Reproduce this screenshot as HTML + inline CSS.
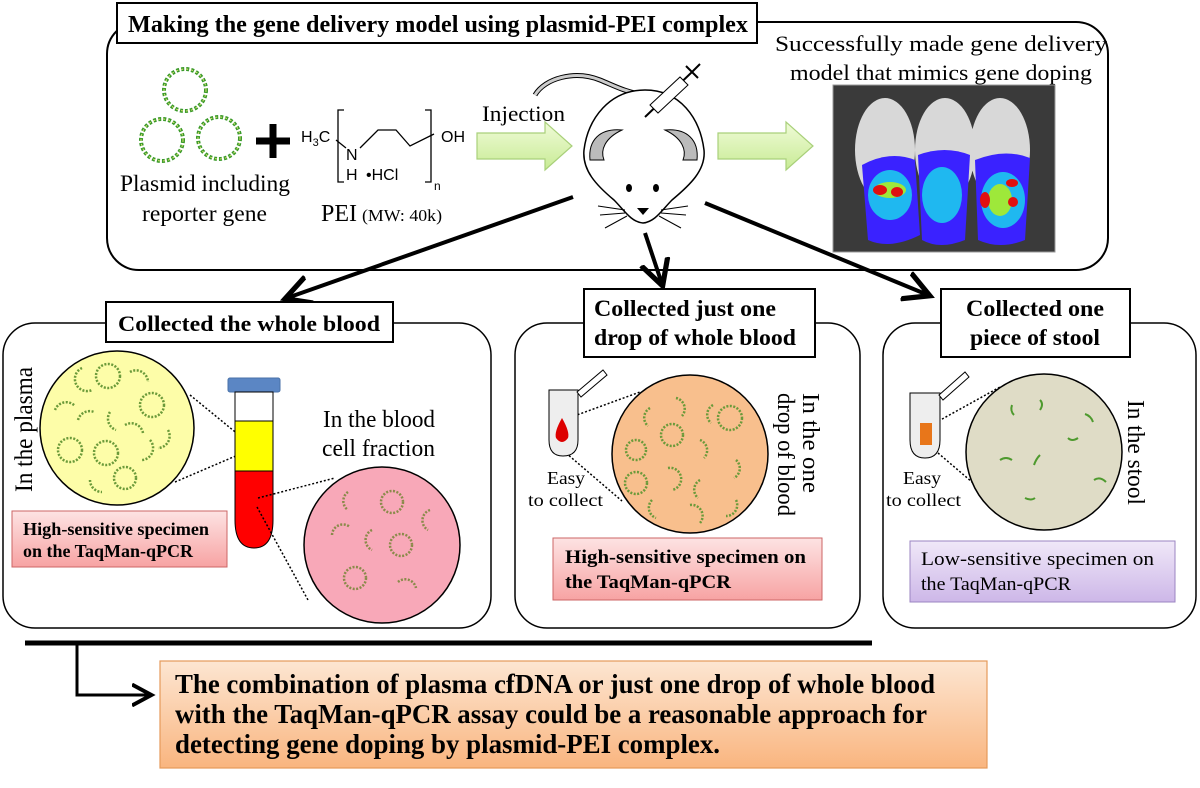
<!DOCTYPE html>
<html><head><meta charset="utf-8"><style>html,body{margin:0;padding:0;background:#fff}svg{display:block}</style></head><body>
<svg width="1200" height="788" viewBox="0 0 1200 788" xmlns="http://www.w3.org/2000/svg" font-family="Liberation Serif, serif">
<defs>
<linearGradient id="pk" x1="0" y1="0" x2="0" y2="1"><stop offset="0" stop-color="#fde3e3"/><stop offset="1" stop-color="#f7a3a3"/></linearGradient>
<linearGradient id="pu" x1="0" y1="0" x2="0" y2="1"><stop offset="0" stop-color="#f0e8f8"/><stop offset="1" stop-color="#cdb7e8"/></linearGradient>
<linearGradient id="or" x1="0" y1="0" x2="0" y2="1"><stop offset="0" stop-color="#fde6d2"/><stop offset="1" stop-color="#f9b57f"/></linearGradient>
<linearGradient id="gr" x1="0" y1="0" x2="0" y2="1"><stop offset="0" stop-color="#f0fbd8"/><stop offset="1" stop-color="#c8eb95"/></linearGradient>
<marker id="ah" markerWidth="8" markerHeight="8" refX="6" refY="4" orient="auto" markerUnits="strokeWidth"><path d="M0,0.5 L6.5,4 L0,7.5" fill="none" stroke="#000" stroke-width="1.3"/></marker>
</defs>

<!-- TOP PANEL -->
<rect x="107" y="22" width="1001" height="248" rx="32" fill="#fff" stroke="#000" stroke-width="2"/>
<rect x="117" y="3" width="640" height="40" fill="#fff" stroke="#000" stroke-width="2"/>
<text x="128" y="32" font-size="24" font-weight="bold" textLength="620" lengthAdjust="spacingAndGlyphs">Making the gene delivery model using plasmid-PEI complex</text>
<text x="775" y="51" font-size="22" textLength="332" lengthAdjust="spacingAndGlyphs">Successfully made gene delivery</text>
<text x="790" y="80" font-size="22" textLength="302" lengthAdjust="spacingAndGlyphs">model that mimics gene doping</text>

<!-- plasmids -->
<g fill="none" stroke="#3a9a2a" stroke-width="4" stroke-dasharray="3 2">
<circle cx="185" cy="90" r="21"/><circle cx="162" cy="140" r="21"/><circle cx="219" cy="138" r="21"/>
</g>
<g fill="none" stroke="#d8e070" stroke-width="1" stroke-dasharray="2 3">
<circle cx="185" cy="90" r="21"/><circle cx="162" cy="140" r="21"/><circle cx="219" cy="138" r="21"/>
</g>
<path d="M256,141 H290 M273,124 V158" stroke="#000" stroke-width="7"/>
<text x="120" y="191" font-size="23" textLength="170" lengthAdjust="spacingAndGlyphs">Plasmid including</text>
<text x="142" y="221" font-size="23" textLength="125" lengthAdjust="spacingAndGlyphs">reporter gene</text>

<!-- PEI -->
<g font-family="Liberation Sans, sans-serif" font-size="16">
<text x="301" y="142">H<tspan font-size="11" dy="4">3</tspan><tspan dy="-4">C</tspan></text>
<text x="346" y="160">N</text><text x="346" y="180">H</text>
<text x="366" y="180">•HCl</text>
<text x="441" y="142">OH</text>
<text x="434" y="190" font-size="12">n</text>
</g>
<path d="M336,140 L346,148 M360,148 L378,130 L396,130 L410,146 L434,134" fill="none" stroke="#000" stroke-width="1.3"/>
<path d="M344,110 H338 V182 H344 M425,110 H431 V182 H425" fill="none" stroke="#000" stroke-width="1.3"/>
<text x="321" y="221" font-size="24" textLength="36" lengthAdjust="spacingAndGlyphs">PEI</text>
<text x="362" y="221" font-size="17" textLength="80" lengthAdjust="spacingAndGlyphs">(MW: 40k)</text>

<!-- green arrows -->
<text x="482" y="121" font-size="22" textLength="83" lengthAdjust="spacingAndGlyphs">Injection</text>
<path d="M477,133 H545 V122 L572,146 L545,170 V159 H477 Z" fill="url(#gr)" stroke="#a9d07a" stroke-width="1.2"/>
<path d="M718,133 H786 V122 L813,146 L786,170 V159 H718 Z" fill="url(#gr)" stroke="#a9d07a" stroke-width="1.2"/>

<!-- mouse -->
<path d="M535,95 C545,78 575,70 600,80 C615,86 625,92 645,95" fill="none" stroke="#000" stroke-width="5"/>
<path d="M535,95 C545,78 575,70 600,80 C615,86 625,92 645,95" fill="none" stroke="#ccc" stroke-width="3"/>
<path d="M645,90 C680,90 700,118 704,150 C706,170 690,185 672,200 C662,210 655,222 643,223 C631,222 624,210 614,200 C596,185 582,170 584,150 C588,118 610,90 645,90 Z" fill="#fff" stroke="#000" stroke-width="1.5"/>
<path d="M590,160 C588,140 600,128 622,130 C605,138 600,150 604,160 Z" fill="#bbb" stroke="#000"/>
<path d="M697,160 C699,140 687,128 665,130 C682,138 687,150 683,160 Z" fill="#bbb" stroke="#000"/>
<ellipse cx="629" cy="188" rx="3" ry="4"/><ellipse cx="656" cy="188" rx="3" ry="4"/>
<path d="M637,208 H649 L643,215 Z"/>
<path d="M625,210 L598,206 M625,213 L600,215 M627,216 L605,228 M661,210 L688,206 M661,213 L686,215 M659,216 L681,228" stroke="#000" stroke-width="1"/>
<path d="M645,117 L692,72 M686,66 L698,78 M692,72 L700,64" stroke="#000" stroke-width="2"/>
<path d="M650,105 L680,77 L688,85 L658,113 Z" fill="#fff" stroke="#000"/>

<!-- photo -->
<rect x="833" y="85" width="222" height="167" fill="#3a3a3a" stroke="#999"/>
<g fill="#d8d8d8">
<ellipse cx="885" cy="150" rx="30" ry="52"/><ellipse cx="945" cy="150" rx="30" ry="52"/><ellipse cx="1000" cy="150" rx="30" ry="52"/>
</g>
<g fill="#3a22ff">
<path d="M862,165 Q890,150 915,160 L920,235 Q890,250 868,240 Z"/>
<path d="M918,155 Q945,145 970,155 L965,240 Q940,250 922,240 Z"/>
<path d="M975,160 Q1005,148 1030,158 L1025,240 Q1000,250 978,240 Z"/>
</g>
<g fill="#1fb8f0"><ellipse cx="890" cy="195" rx="22" ry="25"/><ellipse cx="942" cy="195" rx="20" ry="28"/><ellipse cx="1003" cy="200" rx="22" ry="28"/></g>
<g fill="#9ee83a"><ellipse cx="890" cy="190" rx="16" ry="8"/><ellipse cx="1000" cy="200" rx="12" ry="16"/></g>
<g fill="#e01010"><ellipse cx="880" cy="190" rx="7" ry="5"/><ellipse cx="897" cy="192" rx="6" ry="5"/><ellipse cx="985" cy="200" rx="5" ry="8"/><ellipse cx="1012" cy="183" rx="6" ry="4"/><ellipse cx="1013" cy="202" rx="5" ry="5"/></g>

<!-- black arrows -->
<g stroke="#000" stroke-width="4" fill="none" marker-end="url(#ah)">
<line x1="573" y1="197" x2="287" y2="298"/>
<line x1="645" y1="233" x2="662" y2="284"/>
<line x1="705" y1="203" x2="928" y2="295"/>
</g>

<!-- PANEL 1 -->
<rect x="3" y="323" width="488" height="305" rx="32" fill="#fff" stroke="#000" stroke-width="1.5"/>
<rect x="106" y="302" width="287" height="40" fill="#fff" stroke="#000" stroke-width="2"/>
<text x="118" y="331" font-size="22" font-weight="bold" textLength="262" lengthAdjust="spacingAndGlyphs">Collected the whole blood</text>
<text transform="translate(32,492) rotate(-90)" font-size="25" textLength="125" lengthAdjust="spacingAndGlyphs">In the plasma</text>
<ellipse cx="117" cy="428" rx="77" ry="77" fill="#fdfda8" stroke="#000" stroke-width="1.5"/>
<g fill="none" stroke="#6b9a3a" stroke-width="2.5" stroke-dasharray="2 1.5">
<circle cx="108" cy="376" r="12"/><circle cx="152" cy="405" r="12"/><circle cx="70" cy="450" r="12"/><circle cx="106" cy="453" r="12"/><circle cx="125" cy="478" r="11"/>
<path d="M82,368 a12,12 0 0,0 10,22"/><path d="M130,372 a12,12 0 0,1 18,10"/><path d="M55,410 a12,12 0 0,1 20,-4"/><path d="M78,420 a12,12 0 0,1 16,-8"/><path d="M110,412 a12,12 0 0,0 6,18"/><path d="M125,425 a12,12 0 0,1 18,8"/><path d="M150,440 a12,12 0 0,1 -8,20"/><path d="M90,480 a12,12 0 0,0 12,12"/><path d="M168,430 a12,12 0 0,1 -10,18"/>
</g>
<path d="M190,395 L245,440 M175,482 L245,452" stroke="#000" stroke-width="1.5" stroke-dasharray="2 2"/>
<rect x="228" y="378" width="52" height="14" rx="2" fill="#5b86c4" stroke="#4a72a8"/>
<path d="M235,392 H273 V520 Q273,548 254,548 Q235,548 235,520 Z" fill="#ff0000" stroke="#000"/>
<rect x="235" y="392" width="38" height="29" fill="#fff" stroke="#000"/>
<rect x="235" y="421" width="38" height="50" fill="#ffff00" stroke="#000"/>
<path d="M258,498 L335,478 M257,507 L308,600" stroke="#000" stroke-width="1.5" stroke-dasharray="2 2"/>
<text x="323" y="427" font-size="24" textLength="112" lengthAdjust="spacingAndGlyphs">In the blood</text>
<text x="322" y="456" font-size="24" textLength="113" lengthAdjust="spacingAndGlyphs">cell fraction</text>
<circle cx="382" cy="545" r="78" fill="#f8a8b8" stroke="#000" stroke-width="1.5"/>
<g fill="none" stroke="#8a8a4a" stroke-width="2.5" stroke-dasharray="2 1.5">
<circle cx="392" cy="502" r="11"/><circle cx="401" cy="545" r="11"/><circle cx="355" cy="578" r="11"/>
<path d="M348,492 a11,11 0 0,0 0,18"/><path d="M430,510 a11,11 0 0,0 -2,20"/><path d="M332,535 a11,11 0 0,1 18,-8"/><path d="M372,530 a11,11 0 0,0 0,20"/><path d="M398,582 a11,11 0 0,1 18,6"/>
</g>
<rect x="12" y="511" width="215" height="56" fill="url(#pk)" stroke="#c66" stroke-width="1"/>
<text x="23" y="535" font-size="18" font-weight="bold" textLength="186" lengthAdjust="spacingAndGlyphs">High-sensitive specimen</text>
<text x="23" y="557" font-size="18" font-weight="bold" textLength="170" lengthAdjust="spacingAndGlyphs">on the TaqMan-qPCR</text>

<!-- PANEL 2 -->
<rect x="515" y="323" width="345" height="305" rx="32" fill="#fff" stroke="#000" stroke-width="1.5"/>
<rect x="584" y="289" width="231" height="68" fill="#fff" stroke="#000" stroke-width="2"/>
<text x="594" y="316" font-size="23" font-weight="bold" textLength="182" lengthAdjust="spacingAndGlyphs">Collected just one</text>
<text x="594" y="345" font-size="23" font-weight="bold" textLength="202" lengthAdjust="spacingAndGlyphs">drop of whole blood</text>
<path d="M555,423 L640,392 M566,453 L622,501" stroke="#000" stroke-width="1.5" stroke-dasharray="2 2"/>
<path d="M549,390 H578 V440 Q578,456 563,456 Q549,456 549,440 Z" fill="#eee" stroke="#000"/>
<path d="M577,392 L603,370 L607,375 L581,397 Z" fill="#fff" stroke="#000"/>
<path d="M562,418 Q554,432 556,438 Q562,446 568,438 Q570,432 562,418 Z" fill="#d00"/>
<text x="547" y="484" font-size="18" textLength="38" lengthAdjust="spacingAndGlyphs">Easy</text>
<text x="528" y="506" font-size="18" textLength="75" lengthAdjust="spacingAndGlyphs">to collect</text>
<ellipse cx="690" cy="454" rx="78" ry="79" fill="#f8bf8d" stroke="#000" stroke-width="1.5"/>
<g fill="none" stroke="#6b9a3a" stroke-width="2.5" stroke-dasharray="2 1.5">
<circle cx="672" cy="435" r="11"/><circle cx="730" cy="418" r="12"/><circle cx="636" cy="450" r="10"/><circle cx="636" cy="483" r="11"/>
<path d="M650,408 a11,11 0 0,0 -2,18"/><path d="M676,398 a11,11 0 0,1 6,18"/><path d="M713,405 a11,11 0 0,0 -2,18"/><path d="M700,440 a11,11 0 0,1 4,18"/><path d="M668,468 a11,11 0 0,1 4,22"/><path d="M700,480 a11,11 0 0,0 -2,18"/><path d="M736,460 a11,11 0 0,1 -2,18"/><path d="M652,500 a11,11 0 0,0 4,18"/><path d="M690,505 a11,11 0 0,1 10,18"/><path d="M736,500 a11,11 0 0,1 -10,16"/>
</g>
<text transform="translate(803,393) rotate(90)" font-size="24" textLength="100" lengthAdjust="spacingAndGlyphs">In the one</text>
<text transform="translate(778,393) rotate(90)" font-size="24" textLength="123" lengthAdjust="spacingAndGlyphs">drop of blood</text>
<rect x="553" y="538" width="269" height="62" fill="url(#pk)" stroke="#c66" stroke-width="1"/>
<text x="565" y="563" font-size="19" font-weight="bold" textLength="241" lengthAdjust="spacingAndGlyphs">High-sensitive specimen on</text>
<text x="565" y="588" font-size="19" font-weight="bold" textLength="166" lengthAdjust="spacingAndGlyphs">the TaqMan-qPCR</text>

<!-- PANEL 3 -->
<rect x="883" y="323" width="313" height="305" rx="32" fill="#fff" stroke="#000" stroke-width="1.5"/>
<rect x="941" y="289" width="189" height="68" fill="#fff" stroke="#000" stroke-width="2"/>
<text x="966" y="316" font-size="23" font-weight="bold" textLength="138" lengthAdjust="spacingAndGlyphs">Collected one</text>
<text x="970" y="345" font-size="23" font-weight="bold" textLength="130" lengthAdjust="spacingAndGlyphs">piece of stool</text>
<path d="M935,423 L1000,387 M938,453 L972,482" stroke="#000" stroke-width="1.5" stroke-dasharray="2 2"/>
<path d="M910,393 H940 V440 Q940,458 925,458 Q910,458 910,440 Z" fill="#eee" stroke="#000"/>
<path d="M939,395 L965,372 L969,377 L943,400 Z" fill="#fff" stroke="#000"/>
<rect x="920" y="423" width="12" height="22" fill="#e8761a"/>
<text x="903" y="484" font-size="18" textLength="38" lengthAdjust="spacingAndGlyphs">Easy</text>
<text x="886" y="506" font-size="18" textLength="75" lengthAdjust="spacingAndGlyphs">to collect</text>
<circle cx="1044" cy="452" r="78" fill="#dfdcc6" stroke="#000" stroke-width="1.5"/>
<g fill="none" stroke="#4e9a2e" stroke-width="2">
<path d="M1012,405 q-2,6 2,10"/><path d="M1040,400 q4,4 0,10"/><path d="M1085,414 q6,2 8,8"/><path d="M1068,438 q4,4 10,0"/><path d="M1040,455 q-4,4 -6,10"/><path d="M1000,460 q6,-4 12,0"/><path d="M1094,480 q6,-4 12,2"/><path d="M1025,498 q6,3 10,0"/>
</g>
<text transform="translate(1128,400) rotate(90)" font-size="24" textLength="105" lengthAdjust="spacingAndGlyphs">In the stool</text>
<rect x="910" y="541" width="265" height="61" fill="url(#pu)" stroke="#9b84c2" stroke-width="1"/>
<text x="921" y="565" font-size="19" textLength="233" lengthAdjust="spacingAndGlyphs">Low-sensitive  specimen on</text>
<text x="921" y="590" font-size="19" textLength="150" lengthAdjust="spacingAndGlyphs">the TaqMan-qPCR</text>

<!-- bottom -->
<line x1="25" y1="643" x2="872" y2="643" stroke="#000" stroke-width="5"/>
<path d="M77,643 V695 H150" fill="none" stroke="#000" stroke-width="3" marker-end="url(#ah)"/>
<rect x="160" y="661" width="827" height="107" fill="url(#or)" stroke="#e59a5a" stroke-width="1.2"/>
<g font-size="27" font-weight="bold">
<text x="175" y="693" textLength="760" lengthAdjust="spacingAndGlyphs">The combination of plasma cfDNA or just one drop of whole blood</text>
<text x="175" y="723" textLength="752" lengthAdjust="spacingAndGlyphs">with the TaqMan-qPCR assay could be a reasonable approach for</text>
<text x="175" y="753" textLength="545" lengthAdjust="spacingAndGlyphs">detecting gene doping by plasmid-PEI complex.</text>
</g>
</svg>
</body></html>
